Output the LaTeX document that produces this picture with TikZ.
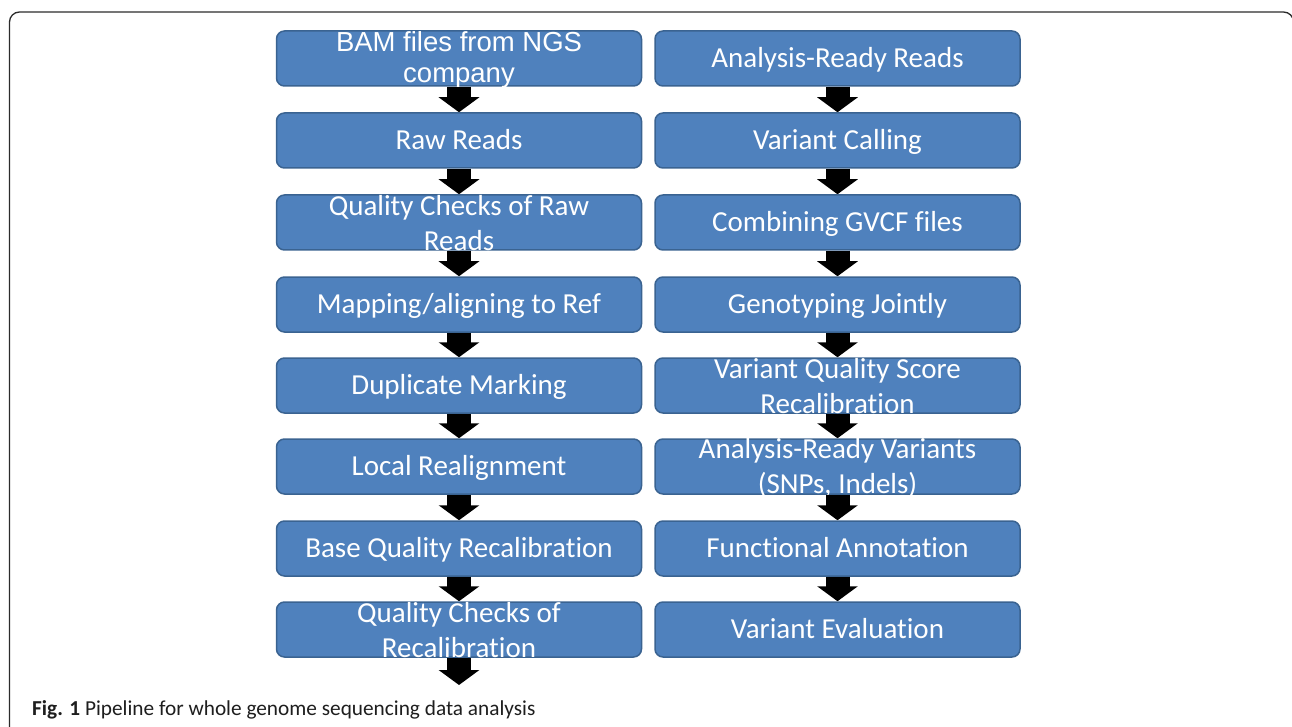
\documentclass[tikz,border=0pt]{standalone}
\usepackage{fontspec}
\setmainfont{Carlito}[Ligatures=NoCommon]
\newfontfamily\arialf{Liberation Sans}
\usetikzlibrary{arrows.meta}
\definecolor{boxblue}{HTML}{4F81BD}
\definecolor{boxedge}{HTML}{3A6391}
\definecolor{framec}{HTML}{2B2B2B}
\definecolor{capc}{HTML}{1E1E1E}
\begin{document}
\begin{tikzpicture}[x=1pt,y=-1pt,
  stepbox/.style={draw=boxedge, line width=1.5pt, fill=boxblue, rounded corners=8pt,
    minimum width=365pt, minimum height=55pt, inner sep=0pt},
  boxtext/.style={text=white, inner sep=0pt, align=center, font=\fontsize{29}{35}\selectfont},
  blockarrow/.style={draw=black, line width=24pt, -{Triangle[length=15pt,width=40pt]},
    preaction={draw=white, line width=26.5pt, -{Triangle[length=16pt,width=44pt]}}}
]
\useasboundingbox (0,0) rectangle (1292,727);
\begin{scope}
  \clip (0,0) rectangle (1292,727);
  \draw[framec, line width=1.3pt, rounded corners=10pt] (9.5,760) -- (9.5,12) -- (1293.5,12) -- (1293.5,760);
\end{scope}

% left column boxes
\node[stepbox] (l1) at (459,58.5) {};
\node[stepbox] (l2) at (459,140.5) {};
\node[stepbox] (l3) at (459,222.5) {};
\node[stepbox] (l4) at (459,304.5) {};
\node[stepbox] (l5) at (459,385.5) {};
\node[stepbox] (l6) at (459,466.5) {};
\node[stepbox] (l7) at (459,548.5) {};
\node[stepbox] (l8) at (459,629.5) {};
% right column boxes
\node[stepbox] (r1) at (837.5,58.5) {};
\node[stepbox] (r2) at (837.5,140.5) {};
\node[stepbox] (r3) at (837.5,222.5) {};
\node[stepbox] (r4) at (837.5,304.5) {};
\node[stepbox] (r5) at (837.5,385.5) {};
\node[stepbox] (r6) at (837.5,466.5) {};
\node[stepbox] (r7) at (837.5,548.5) {};
\node[stepbox] (r8) at (837.5,629.5) {};

% texts left
\node[boxtext, font=\arialf\fontsize{27.5}{31}\selectfont] (t1) at ([yshift=-1pt]l1.center) {BAM files from NGS\\company};
\node[boxtext, anchor=base] (t2) at ([yshift=-9.3pt]l2.center) {Raw Reads};
\node[boxtext] (t3) at ([yshift=-1pt]l3.center) {Quality Checks of Raw\\Reads};
\node[boxtext, anchor=base] (t4) at ([yshift=-9.3pt]l4.center) {Mapping/aligning to Ref};
\node[boxtext, anchor=base] (t5) at ([yshift=-9.3pt]l5.center) {Duplicate Marking};
\node[boxtext, anchor=base] (t6) at ([yshift=-9.3pt]l6.center) {Local Realignment};
\node[boxtext, anchor=base] (t7) at ([yshift=-9.3pt]l7.center) {Base Quality Recalibration};
\node[boxtext] (t8) at ([yshift=-1pt]l8.center) {Quality Checks of\\Recalibration};
% texts right
\node[boxtext, anchor=base] (u1) at ([yshift=-9.3pt]r1.center) {Analysis-Ready Reads};
\node[boxtext, anchor=base] (u2) at ([yshift=-9.3pt]r2.center) {Variant Calling};
\node[boxtext, anchor=base] (u3) at ([yshift=-9.3pt]r3.center) {Combining GVCF files};
\node[boxtext, anchor=base] (u4) at ([yshift=-9.3pt]r4.center) {Genotyping Jointly};
\node[boxtext] (u5) at ([yshift=-1pt]r5.center) {Variant Quality Score\\Recalibration};
\node[boxtext] (u6) at ([yshift=-1pt]r6.center) {Analysis-Ready Variants\\(SNPs, Indels)};
\node[boxtext, anchor=base] (u7) at ([yshift=-9.3pt]r7.center) {Functional Annotation};
\node[boxtext, anchor=base] (u8) at ([yshift=-9.3pt]r8.center) {Variant Evaluation};

% arrows
\coordinate (lend) at (459,685);
\draw[blockarrow] (l1.south) -- (l2.north);
\draw[blockarrow] (l2.south) -- (l3.north);
\draw[blockarrow] (l3.south) -- (l4.north);
\draw[blockarrow] (l4.south) -- (l5.north);
\draw[blockarrow] (l5.south) -- (l6.north);
\draw[blockarrow] (l6.south) -- (l7.north);
\draw[blockarrow] (l7.south) -- (l8.north);
\draw[blockarrow] (l8.south) -- (lend);
\draw[blockarrow] (r1.south) -- (r2.north);
\draw[blockarrow] (r2.south) -- (r3.north);
\draw[blockarrow] (r3.south) -- (r4.north);
\draw[blockarrow] (r4.south) -- (r5.north);
\draw[blockarrow] (r5.south) -- (r6.north);
\draw[blockarrow] (r6.south) -- (r7.north);
\draw[blockarrow] (r7.south) -- (r8.north);

% caption
\node[anchor=base west, inner sep=0pt, text=capc, font=\fontsize{21.3}{25}\selectfont] (cap) at (32,715)
  {\textbf{Fig. 1} Pipeline for whole genome sequencing data analysis};
\end{tikzpicture}
\end{document}
